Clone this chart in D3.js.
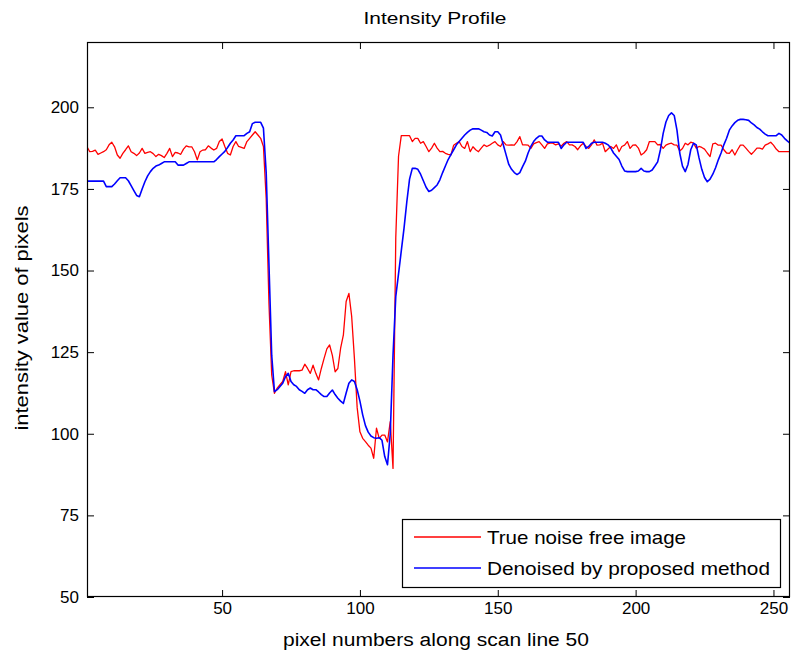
<!DOCTYPE html>
<html><head><meta charset="utf-8">
<script src="https://cdn.jsdelivr.net/npm/d3@7"></script>
<style>
body{margin:0;background:#fff}
svg{display:block}
text{font-family:"Liberation Sans",Arial,sans-serif;fill:#000}
</style>
</head><body><svg id="chart" width="793" height="657"></svg>
<script>
const pixelNumbers = d3.range(1, 257);

const trueNoiseFree = [
187.9,186.4,186.5,186.9,185.6,186,186.4,187,188.5,189.3,
187.9,185.4,184.4,185.9,187,188.2,186.4,185.9,185.2,186,
187.4,185.9,186.2,186.4,185.8,184.9,185.6,185.2,184.6,185.9,
187.4,184.9,186.2,186,185.6,187.2,188.2,187.9,187.9,186.4,
183.9,186.4,186.9,187,188.2,187.5,186.9,187.4,189.5,190.3,
188,185.9,185.4,188,189.5,188,187.7,187.4,189.5,190.5,
191.5,192.5,191.5,190.5,188,172,140,118,112.4,114,
115,116,119,115,119,119.3,119.3,119.3,119.5,121.3,
120,118.5,121,118.5,116.5,120,123.1,126,127.2,124,
119,120,126.2,130.3,140.5,143,136,123.1,108,100.6,
98.6,97.6,96.5,95.6,92.5,101.7,98.6,99.6,99.6,97.5,
103.7,89.4,160,185,191.3,191.3,191.3,191.3,189.5,190.5,
190.5,189,189.5,188,186.4,187.5,189,187.5,186.4,186.5,
185.9,185.6,185.4,188.4,189,189.5,188,187.4,189.5,186.4,
187.9,187,186.4,187.5,188.5,188,188.4,189,189.5,188.5,
188,189.5,188.5,188.4,188.5,188.4,189.5,191,188.5,188.5,
188.4,187.4,188.8,189.2,189.5,188.5,187.4,188.8,189,189,
188.5,188.8,188.1,189,189.5,188.5,188.5,188,187,188.2,
189,188,187.4,188.5,190,188.4,188.5,189,186.4,187.2,
188,187.4,188.5,186.4,188,188.4,189.5,187.4,188.4,188.5,
187.5,185.4,186,187,189.5,189.5,189.5,188.5,188.6,187.4,
188.4,188.8,189,188.5,188.4,186.6,187.4,189,188.5,189.3,
189,187.5,188,187.7,187.2,186,184.9,188.8,189,188.4,
188.4,187,186,185.9,187,185.4,187,188.4,188.4,187.5,
186.5,185.6,186.5,187.5,187.5,187.2,188.4,188.8,189.3,188.4,
187.2,186.4,186.4,186.4,186.4,186.4
];

const denoisedProposed = [
177.4,177.4,177.4,177.4,177.4,177.4,177.4,175.7,175.7,175.7,
176.5,177.5,178.4,178.4,178.4,177.5,176,174.5,173,172.6,
175,177.2,179,180.3,181.3,182,182.3,182.8,183.3,183.3,
183.3,183.3,183.3,182.3,182.3,182.3,182.8,183.3,183.3,183.3,
183.3,183.3,183.3,183.3,183.3,183.3,183.3,184,184.9,185.7,
186.5,187.7,189,190,191.3,191.3,191.3,191.3,192,192.5,
195,195.4,195.4,195.4,193.6,180,152,124,112.9,113.5,
114.5,115.5,117.5,118.5,116,115,114.5,113.5,113,112.4,
113.5,114,113.5,113.5,112.8,112,111.4,111.4,112.5,113.4,
112,110.9,110,109.3,112.5,115.5,116.5,116,113.5,110,
105.8,102.5,100.5,99.3,98.8,98.6,98.8,98,93,90.5,
100,124,142,149,156,163,171,178,181.3,181.3,
181,179.5,177.5,175.5,174.2,174.6,175.4,176.2,177.8,180,
182,184,185.5,187,188.5,189.5,190.5,191.5,192.3,193,
193.4,193.4,193.4,193,192.5,192.3,191.5,191.2,192.5,192.5,
191.5,188.5,185.5,182.5,181,180,179.4,180,181.8,183.5,
186,188,189.5,190.5,191.2,191.2,190,189.3,189.3,189.3,
189.3,189.3,187.4,188.5,189.3,189.3,189.3,189.3,189.3,189.3,
189.3,187.4,188,189,189.3,189.3,189.3,189.3,189,188.5,
187.5,186,185,184,182,180.5,180.3,180.3,180.3,180.3,
180.5,181.3,180.5,180.3,180.3,180.8,182,183.3,187,192,
195.5,197.5,198.3,197.5,193,186,182,180.3,182.5,187,
189,188.5,184.5,181,178.5,177.2,178,179.5,181.5,183.9,
186,188.5,190.5,193,194.3,195.3,196,196.3,196.3,196.2,
196,195.2,194.6,193.8,193.3,192.5,191.8,191.3,191.3,191.3,
191.3,192,191.5,190.5,189.7,189
];

const xTickValues = [50, 100, 150, 200, 250];
const yTickValues = [50, 75, 100, 125, 150, 175, 200];
const seriesNames = ["True noise free image", "Denoised by proposed method"];
const seriesColors = ["#ff0000", "#0000ff"];
const chartTitle = "Intensity Profile";
const xLabel = "pixel numbers along scan line 50";
const yLabel = "intensity value of pixels";

const svg = d3.select("#chart");
const m = {left: 87, right: 790, top: 42, bottom: 597};

const x = d3.scaleLinear().domain([1, 256]).range([m.left, m.right]);
const y = d3.scaleLinear().domain([50, 220]).range([m.bottom, m.top]);

// clip
svg.append("defs").append("clipPath").attr("id", "clip")
  .append("rect").attr("x", m.left).attr("y", m.top)
  .attr("width", m.right - m.left).attr("height", m.bottom - m.top);

const tick = 7;
const fs = 17;

// axes
const gx = svg.append("g").attr("transform", `translate(0,${m.bottom})`)
  .call(d3.axisBottom(x).tickValues(xTickValues).tickSizeInner(-tick).tickSizeOuter(0).tickPadding(5));
const gy = svg.append("g").attr("transform", `translate(${m.left},0)`)
  .call(d3.axisLeft(y).tickValues(yTickValues).tickSizeInner(-tick).tickSizeOuter(0).tickPadding(8));
const gxt = svg.append("g").attr("transform", `translate(0,${m.top})`)
  .call(d3.axisTop(x).tickValues(xTickValues).tickSizeInner(-tick).tickSizeOuter(0).tickFormat(""));
const gyr = svg.append("g").attr("transform", `translate(${m.right},0)`)
  .call(d3.axisRight(y).tickValues(yTickValues).tickSizeInner(-tick).tickSizeOuter(0).tickFormat(""));
[gx, gy, gxt, gyr].forEach(g => {
  g.select(".domain").remove();
  g.selectAll("line").attr("stroke", "#000").attr("stroke-width", 1);
  g.selectAll("text").attr("font-size", fs).attr("font-family", '"Liberation Sans",Arial,sans-serif').attr("fill", "#000");
});

// lines
const lineGen = vals => d3.line().x((d, i) => x(pixelNumbers[i])).y(d => y(d))(vals);
const plot = svg.append("g").attr("clip-path", "url(#clip)");
plot.append("path").attr("d", lineGen(trueNoiseFree)).attr("fill", "none")
  .attr("stroke", seriesColors[0]).attr("stroke-width", 1.3).attr("stroke-linejoin", "round");
plot.append("path").attr("d", lineGen(denoisedProposed)).attr("fill", "none")
  .attr("stroke", seriesColors[1]).attr("stroke-width", 1.6).attr("stroke-linejoin", "round");

// box
svg.append("rect").attr("x", m.left + 0.5).attr("y", m.top + 0.5)
  .attr("width", m.right - m.left - 1).attr("height", m.bottom - m.top - 1)
  .attr("fill", "none").attr("stroke", "#000").attr("stroke-width", 1.2);

// title and labels
svg.append("text").attr("x", 435).attr("y", 24).attr("text-anchor", "middle")
  .attr("font-size", 17).attr("textLength", 143).attr("lengthAdjust", "spacingAndGlyphs").text(chartTitle);
svg.append("text").attr("x", 436).attr("y", 646).attr("text-anchor", "middle")
  .attr("font-size", 18).attr("textLength", 306).attr("lengthAdjust", "spacingAndGlyphs").text(xLabel);
svg.append("text").attr("transform", "translate(28,318) rotate(-90)").attr("text-anchor", "middle")
  .attr("font-size", 18).attr("textLength", 225).attr("lengthAdjust", "spacingAndGlyphs").text(yLabel);

// legend
const lg = svg.append("g");
lg.append("rect").attr("x", 402.5).attr("y", 519.5).attr("width", 378).attr("height", 68)
  .attr("fill", "#fff").attr("stroke", "#000").attr("stroke-width", 1.2);
const legendWidths = [199, 283];
seriesNames.forEach((name, i) => {
  const yy = 537 + i * 31;
  lg.append("line").attr("x1", 414).attr("x2", 481).attr("y1", yy).attr("y2", yy)
    .attr("stroke", seriesColors[i]).attr("stroke-width", 1.4);
  lg.append("text").attr("x", 487).attr("y", yy + 7).attr("font-size", 19)
    .attr("textLength", legendWidths[i]).attr("lengthAdjust", "spacingAndGlyphs").text(name);
});
</script>
</body></html>
